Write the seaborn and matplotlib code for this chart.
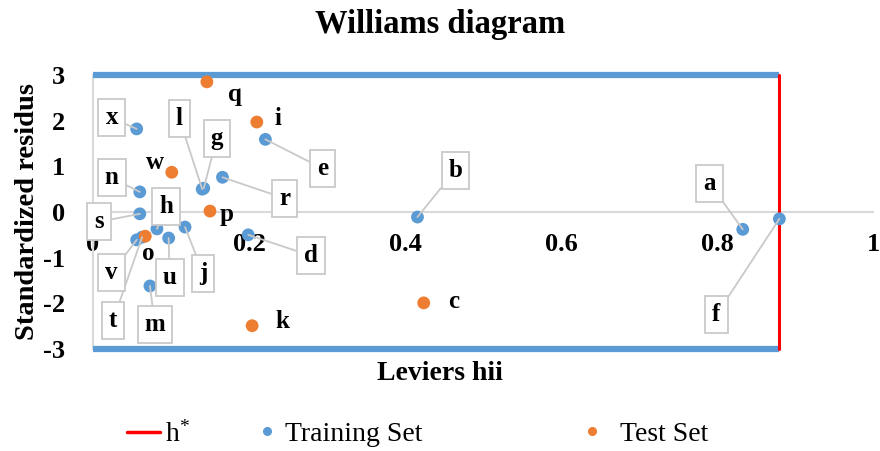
import matplotlib
matplotlib.use("Agg")
import matplotlib.pyplot as plt
from matplotlib.lines import Line2D
import seaborn as sns
import pandas as pd

# ---------------- data ----------------
train_labels = ["a", "b", "d", "e", "f", "g", "h", "j", "l", "m", "n", "r", "s", "t", "u", "v", "x"]
train_h = [0.833, 0.416, 0.199, 0.221, 0.880, 0.142, 0.082, 0.118, 0.140, 0.073, 0.060, 0.166, 0.060, 0.063, 0.097, 0.056, 0.056]
train_r = [-0.38, -0.11, -0.50, 1.59, -0.15, 0.52, -0.37, -0.33, 0.50, -1.62, 0.44, 0.76, -0.04, -0.55, -0.57, -0.61, 1.82]

test_labels = ["c", "i", "k", "o", "p", "q", "w"]
test_h = [0.424, 0.210, 0.204, 0.067, 0.150, 0.146, 0.101]
test_r = [-1.99, 1.97, -2.49, -0.53, 0.02, 2.85, 0.87]

h_star = 0.88
res_limit = 3

xticks = [0, 0.2, 0.4, 0.6, 0.8, 1]
xtick_labels = ["0", "0.2", "0.4", "0.6", "0.8", "1"]
yticks = [-3, -2, -1, 0, 1, 2, 3]
ytick_labels = ["-3", "-2", "-1", "0", "1", "2", "3"]

# label offsets (pixels, relative to point)
train_offsets = {"a": (-33, 46), "b": (38, 47), "d": (63, -21), "e": (57, -29), "f": (-63, -96),
                 "g": (13, 50), "h": (9, 22), "j": (18, -46), "l": (-23, 71), "m": (5, -39),
                 "n": (-28, 14), "r": (62, -21), "s": (-41, -8), "t": (-29, -83), "u": (1, -39),
                 "v": (-25, -33), "x": (-25, 11)}
test_offsets = {"c": (30, 1), "i": (21, 4), "k": (30, 4), "o": (3, -17), "p": (17, -3),
                "q": (28, -13), "w": (-17, 10)}

BLUE = "#5B9BD5"
ORANGE = "#ED7D31"
GRAY = "#D9D9D9"

sns.set_theme(style="white")
plt.rcParams["font.family"] = ["Liberation Serif", "DejaVu Serif"]
plt.rcParams["mathtext.default"] = "regular"
plt.rcParams["text.color"] = "black"
plt.rcParams["axes.labelcolor"] = "black"
plt.rcParams["xtick.color"] = "black"
plt.rcParams["ytick.color"] = "black"

df = pd.DataFrame({
    "h": train_h + test_h,
    "r": train_r + test_r,
    "label": train_labels + test_labels,
    "set": ["Training Set"] * len(train_h) + ["Test Set"] * len(test_h),
})

fig = plt.figure(figsize=(8.8, 4.51), dpi=100)
ax = fig.add_axes([93 / 880, 1 - 349 / 451, 780 / 880, 274 / 451])

# limits lines
ax.plot([0, h_star], [res_limit, res_limit], color=BLUE, lw=4.5, clip_on=False, solid_capstyle="butt", zorder=2)
ax.plot([0, h_star], [-res_limit, -res_limit], color=BLUE, lw=4.5, clip_on=False, solid_capstyle="butt", zorder=2)
ax.plot([h_star, h_star], [-res_limit, res_limit], color="#FF0000", lw=2.2, clip_on=False, zorder=3)

sns.scatterplot(data=df, x="h", y="r", hue="set", palette={"Training Set": BLUE, "Test Set": ORANGE},
                s=85, linewidth=0, ax=ax, legend=False, zorder=4, clip_on=False)

# annotations
for lab, x, y in zip(train_labels, train_h, train_r):
    dx, dy = train_offsets[lab]
    ax.annotate(lab, xy=(x, y), xytext=(dx, dy), textcoords="offset pixels",
                ha="center", va="center", fontsize=18, fontweight="bold",
                bbox=dict(boxstyle="square,pad=0.28", fc="white", ec="#C9C9C9", lw=1.3),
                arrowprops=dict(arrowstyle="-", color="#C9C9C9", lw=1.3, shrinkA=0, shrinkB=0),
                zorder=5)
for lab, x, y in zip(test_labels, test_h, test_r):
    dx, dy = test_offsets[lab]
    ax.annotate(lab, xy=(x, y), xytext=(dx, dy), textcoords="offset pixels",
                ha="center", va="center", fontsize=18, fontweight="bold", zorder=5)

ax.set_xlim(0, 1)
ax.set_ylim(-3, 3)
for side in ["top", "right"]:
    ax.spines[side].set_visible(False)
ax.spines["bottom"].set_position(("data", 0))
ax.spines["bottom"].set_color(GRAY)
ax.spines["bottom"].set_linewidth(1.5)
ax.spines["left"].set_color(GRAY)
ax.spines["left"].set_linewidth(1.5)
ax.spines["bottom"].set_zorder(1)
ax.spines["left"].set_zorder(1)

ax.set_xticks(xticks, labels=xtick_labels, fontweight="bold", fontsize=19)
ax.set_yticks(yticks, labels=ytick_labels, fontweight="bold", fontsize=19)
ax.tick_params(axis="x", length=0, pad=15)
ax.tick_params(axis="y", length=0, pad=20)

ax.set_xlabel("Leviers hii", fontsize=20, fontweight="bold")
ax.set_ylabel("Standardized residus", fontsize=20.5, fontweight="bold")
ax.xaxis.set_label_coords(0.445, -0.045)
ax.yaxis.set_label_coords(-0.068, 0.5)

fig.text(440 / 880, 1 - 33 / 451, "Williams diagram", ha="center", va="baseline",
         fontsize=23.5, fontweight="bold")

# legends
leg_y = 1 - 434 / 451
h1 = Line2D([], [], color="#FF0000", lw=2.5)
fig.legend([h1], ["h$^{*}$"], loc="center left", bbox_to_anchor=(127 / 880, leg_y),
           frameon=False, fontsize=20, handlelength=1.2, handletextpad=0.18,
           borderpad=0, borderaxespad=0)
h2 = Line2D([], [], color=BLUE, marker="o", ls="", markersize=5.5)
fig.legend([h2], ["Training Set"], loc="center left", bbox_to_anchor=(259 / 880, leg_y),
           frameon=False, fontsize=20, handlelength=0.6, handletextpad=0.35,
           borderpad=0, borderaxespad=0)
h3 = Line2D([], [], color=ORANGE, marker="o", ls="", markersize=5.5)
fig.legend([h3], ["Test Set"], loc="center left", bbox_to_anchor=(584 / 880, leg_y),
           frameon=False, fontsize=20, handlelength=0.6, handletextpad=0.7,
           borderpad=0, borderaxespad=0)

fig.savefig("out.png", dpi=100)
